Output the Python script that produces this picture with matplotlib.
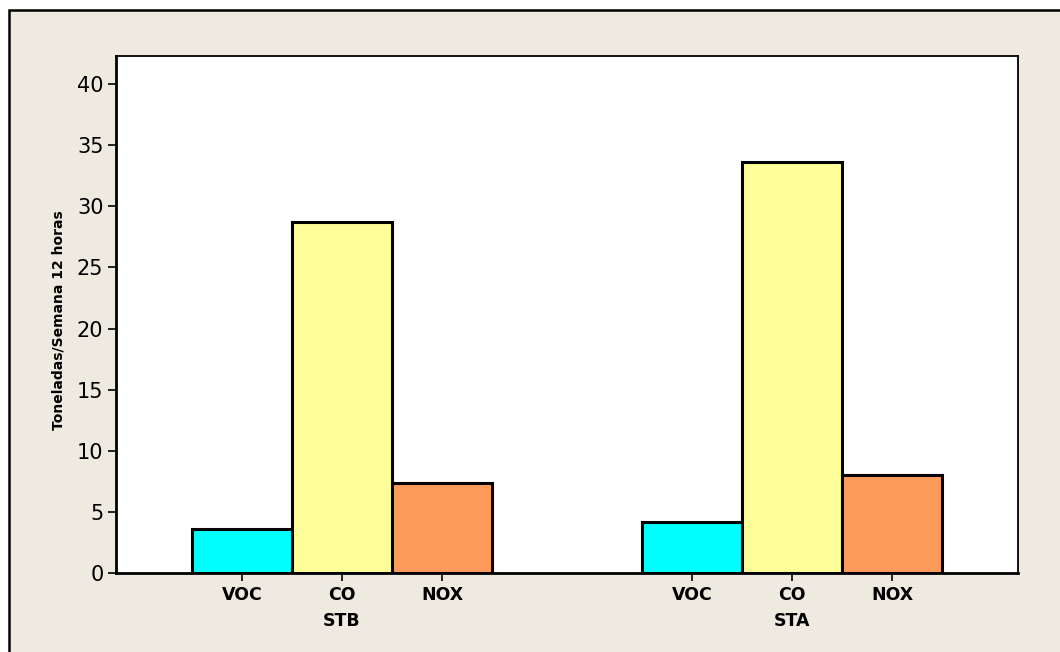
import matplotlib.pyplot as plt
from matplotlib.patches import Rectangle

# emisiones por semana de 12 horas
grupos = ["STB", "STA"]
contaminantes = ["VOC", "CO", "NOX"]
stb = [3.6, 28.7, 7.35]
sta = [4.2, 33.6, 8.0]
colores = ["#00FFFF", "#FFFF99", "#FF9B5A"]

fig = plt.figure(figsize=(10.6, 6.52), dpi=100)
fig.patch.set_facecolor("white")
# marco beige de fondo
fig.patches.append(Rectangle((9 / 1060, -0.05), 1.1, (652 - 10) / 652 + 0.05,
                             transform=fig.transFigure, facecolor="#EEEAE0",
                             edgecolor="black", linewidth=1.8, zorder=-10))

ax = fig.add_axes([116 / 1060, 1 - 573 / 652, (1018 - 116) / 1060, (573 - 56) / 652])

pos = []
etiquetas = []
for g, valores in enumerate([stb, sta]):
    for i, v in enumerate(valores):
        x = g * 4.5 + i
        ax.bar(x, v, width=1.0, color=colores[i], edgecolor="black", linewidth=2.2)
        pos.append(x)
        etiquetas.append(contaminantes[i])

ax.set_xlim(-1.26, 7.76)
ax.set_ylim(0, 42.3)
ax.set_yticks(range(0, 41, 5))
ax.set_xticks(pos)
ax.set_xticklabels(etiquetas, fontsize=12.5, fontweight="bold")
ax.tick_params(axis="y", labelsize=15, length=6, width=1.2, pad=3)
ax.tick_params(axis="x", length=6, width=1.2, pad=3)

for g, nombre in enumerate(grupos):
    ax.text(g * 4.5 + 1, -3.2, nombre, ha="center", va="top",
            fontsize=12.5, fontweight="bold")

ax.set_ylabel("Toneladas/Semana 12 horas", fontsize=10, fontweight="bold")
ax.yaxis.set_label_coords(-0.056, 0.49)

for lado in ["left", "bottom"]:
    ax.spines[lado].set_linewidth(2)
for lado in ["top", "right"]:
    ax.spines[lado].set_linewidth(1.3)

fig.savefig("out.png", dpi=100)
